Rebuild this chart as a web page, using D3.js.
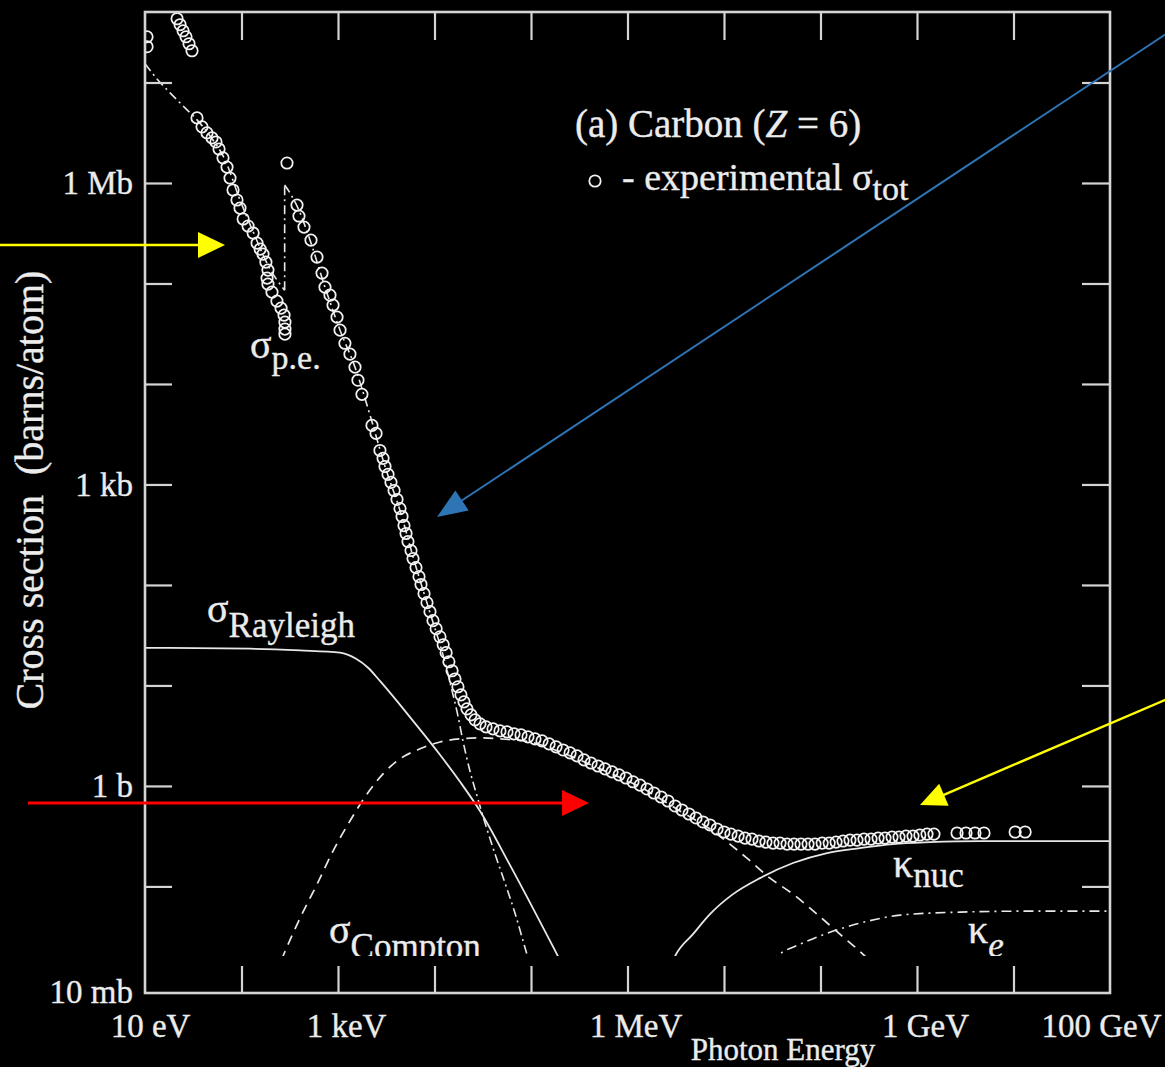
<!DOCTYPE html>
<html>
<head>
<meta charset="utf-8">
<script src="https://cdn.jsdelivr.net/npm/d3@7"></script>
<style>
  html, body { margin: 0; padding: 0; background: #000; }
  svg { display: block; }
  text { font-family: "Liberation Serif", "Times New Roman", serif; fill: #ececec; stroke: #ececec; stroke-width: 0.35px; }
</style>
</head>
<body>
<svg id="chart" width="1165" height="1067"></svg>
<script>
// ---- Photon cross sections for carbon: energy in eV, cross section in barns/atom ----

// Measured total cross section (open circles)
const sigmaTotPoints = [
  [10.5, 2.85e7], [10.5, 2.27e7],
  [21.5, 4.31e7], [23.1, 3.76e7], [24.8, 3.27e7], [26.6, 2.85e7], [28.6, 2.43e7], [30.7, 2.07e7],
  [34.6, 4.44e6], [39.0, 3.62e6], [43.9, 3.15e6], [49.5, 2.81e6], [54.4, 2.56e6], [58.5, 2.18e6],
  [64.3, 1.78e6], [70.8, 1.44e6], [76.0, 1.12e6], [81.7, 8.52e5], [89.8, 6.77e5], [96.5, 5.63e5],
  [104, 4.38e5], [117, 3.73e5], [132, 3.18e5], [145, 2.52e5], [156, 2.20e5], [167, 1.96e5],
  [179, 1.63e5], [188, 1.36e5], [184, 1.13e5], [188, 9.85e4], [207, 8.20e4], [233, 6.67e4],
  [257, 5.68e4], [276, 4.84e4], [282, 4.12e4], [282, 3.51e4], [282, 3.13e4],
  [296, 1.58e6],
  [376, 6.03e5], [394, 4.69e5], [444, 3.64e5], [525, 2.70e5], [606, 1.83e5], [683, 1.27e5],
  [733, 9.19e4], [826, 7.65e4], [888, 6.08e4], [977, 4.62e4], [1050, 3.43e4], [1180, 2.54e4],
  [1330, 1.98e4], [1500, 1.47e4], [1610, 1.09e4], [1770, 7890], [2250, 3870], [2480, 3220],
  [2720, 2180], [2930, 1820], [3070, 1510], [3300, 1260], [3540, 1050], [3810, 871],
  [4090, 709], [4390, 576], [4610, 480], [4830, 390], [5070, 325], [5310, 270],
  [5710, 220], [5990, 183], [6430, 149], [6910, 121], [7250, 101], [7790, 81.9],
  [8360, 66.7], [8980, 54.2], [9650, 44.1], [10400, 36.7], [11400, 30.5], [12300, 25.4],
  [13200, 21.2], [14100, 17.2], [15200, 14.0], [16300, 11.6], [17500, 9.70], [18800, 8.07],
  [20200, 6.87], [21700, 5.85], [23900, 5.10], [26300, 4.55], [29600, 4.15], [34200, 3.87],
  [40400, 3.70], [47700, 3.53], [56400, 3.45], [66700, 3.30], [78800, 3.22], [93100, 3.08],
  [1.10e5, 2.94], [1.30e5, 2.81], [1.54e5, 2.62], [1.82e5, 2.45], [2.15e5, 2.28], [2.54e5, 2.13],
  [3.00e5, 1.99], [3.54e5, 1.82], [4.19e5, 1.69], [4.95e5, 1.58], [5.85e5, 1.48], [6.91e5, 1.38],
  [8.17e5, 1.29], [9.65e5, 1.20], [1.14e6, 1.10], [1.35e6, 1.02], [1.59e6, 0.933], [1.88e6, 0.851],
  [2.23e6, 0.776], [2.63e6, 0.708], [3.11e6, 0.632], [3.67e6, 0.576], [4.34e6, 0.526], [5.13e6, 0.480],
  [6.06e6, 0.438], [7.16e6, 0.409], [8.47e6, 0.373], [1.00e7, 0.348], [1.18e7, 0.332], [1.40e7, 0.317],
  [1.65e7, 0.303], [1.95e7, 0.296], [2.31e7, 0.283], [2.72e7, 0.276], [3.22e7, 0.270], [3.81e7, 0.270],
  [4.50e7, 0.264], [5.32e7, 0.264], [6.28e7, 0.264], [7.43e7, 0.264], [8.77e7, 0.264], [1.04e8, 0.270],
  [1.23e8, 0.270], [1.45e8, 0.276], [1.71e8, 0.283], [2.02e8, 0.289], [2.39e8, 0.289], [2.82e8, 0.296],
  [3.34e8, 0.296], [3.95e8, 0.303], [4.66e8, 0.303], [5.51e8, 0.310], [6.51e8, 0.310], [7.69e8, 0.317],
  [9.09e8, 0.317], [1.07e9, 0.325], [1.27e9, 0.332], [1.50e9, 0.332],
  [2.60e9, 0.340], [3.22e9, 0.340], [3.99e9, 0.340], [4.95e9, 0.340],
  [1.04e10, 0.348], [1.32e10, 0.348]
];

// Atomic photoeffect, below and above the K edge (dash-dot)
const photoBelowEdge = [
  [10, 1.54e7], [13.6, 1.06e7], [18.2, 7.89e6], [26.0, 5.59e6], [34.6, 4.25e6], [47.2, 2.94e6],
  [67.5, 1.70e6], [96.5, 6.77e5], [138, 2.96e5], [188, 1.52e5], [280, 8.58e4]
];
const photoAboveEdge = [
  [280, 9.55e5], [318, 7.95e5], [385, 5.63e5], [513, 2.70e5], [733, 9.19e4], [1050, 3.43e4],
  [1500, 1.47e4], [2150, 4870], [3070, 1510], [4390, 551], [6280, 163], [8980, 53.0],
  [12900, 16.8], [15200, 8.84], [17500, 4.98], [19700, 2.81], [23300, 1.41], [27600, 0.794],
  [33400, 0.428], [42400, 0.210], [53800, 0.108], [68300, 0.0542], [90900, 0.0211], [110000, 0.0119]
];

// Rayleigh (coherent) scattering (solid)
const rayleighPoints = [
  [10, 23.7], [122, 23.2], [404, 22.3], [1050, 21.2], [1540, 18.4], [2050, 15.0], [2720, 11.1],
  [3990, 7.19], [5990, 4.44], [11400, 2.04], [18400, 1.10], [29600, 0.563], [60600, 0.163],
  [186000, 0.0211], [286000, 0.00948]
];

// Compton (incoherent) scattering (dashed)
const comptonPoints = [
  [222, 0.0128], [269, 0.0202], [404, 0.0483], [606, 0.105], [888, 0.225], [1330, 0.448],
  [2000, 0.832], [2930, 1.32], [4390, 1.86], [7080, 2.34], [11400, 2.74], [18400, 2.94],
  [29600, 3.01], [47700, 2.94], [97600, 2.74], [2.00e5, 2.18], [5.19e5, 1.48], [1.35e6, 0.977],
  [3.50e6, 0.563], [7.16e6, 0.373], [1.15e7, 0.264], [1.73e7, 0.191], [3.00e7, 0.121],
  [5.19e7, 0.0838], [9.20e7, 0.0530], [1.59e8, 0.0335], [2.76e8, 0.0211], [4.14e8, 0.0143]
];

// Pair production in the nuclear field (solid)
const pairNuclearPoints = [
  [2.63e6, 0.0137], [3.11e6, 0.0202], [4.77e6, 0.0335], [7.16e6, 0.0530], [1.24e7, 0.0838],
  [2.36e7, 0.121], [5.19e7, 0.171], [1.17e8, 0.215], [2.57e8, 0.241], [5.64e8, 0.264],
  [1.36e9, 0.276], [4.50e9, 0.283], [1.88e10, 0.283], [1e11, 0.283]
];

// Pair production in the electron field (dash-dot)
const pairElectronPoints = [
  [3.00e7, 0.0172], [3.54e7, 0.0202], [6.13e7, 0.0266], [1.17e8, 0.0342], [2.57e8, 0.0431],
  [6.67e8, 0.0518], [2.79e9, 0.0555], [1.48e10, 0.0568], [1e11, 0.0568]
];

// Axis ticks and labels
const xTickValues = [1e2, 1e3, 1e4, 1e5, 1e6, 1e7, 1e8, 1e9, 1e10];
const xLabelValues = [1e1, 1e3, 1e6, 1e9, 1e11];
const xLabelText = ["10 eV", "1 keV", "1 MeV", "1 GeV", "100 GeV"];
const yTickValues = [1e-1, 1, 1e1, 1e2, 1e3, 1e4, 1e5, 1e6, 1e7];
const yLabelValues = [1e-2, 1, 1e3, 1e6];
const yLabelText = ["10 mb", "1 b", "1 kb", "1 Mb"];

// ---- Layout ----
const svg = d3.select("#chart");
const frame = { left: 145, right: 1110, top: 12, bottom: 993, cut: 956 };
const ink = "#e8e8e8";

svg.append("rect").attr("width", 1165).attr("height", 1067).attr("fill", "#000");

const x = d3.scaleLog().domain([1e1, 1e11]).range([frame.left, frame.right]);
const y = d3.scaleLog().domain([8.7e-3, 5.03e7]).range([frame.bottom, frame.top]);

svg.append("clipPath").attr("id", "plotClip")
  .append("rect")
  .attr("x", frame.left).attr("y", frame.top)
  .attr("width", frame.right - frame.left).attr("height", frame.cut - frame.top);

const plot = svg.append("g").attr("clip-path", "url(#plotClip)");

const smooth = d3.line().x(d => x(d[0])).y(d => y(d[1])).curve(d3.curveMonotoneX);
const straight = d3.line().x(d => x(d[0])).y(d => y(d[1]));

function curve(data, gen, dash, width) {
  plot.append("path")
    .attr("d", gen(data))
    .attr("fill", "none")
    .attr("stroke", ink)
    .attr("stroke-width", width)
    .attr("stroke-dasharray", dash || null);
}

const dashDot = "9,4,2,4";
curve(rayleighPoints, smooth, null, 1.8);
curve(comptonPoints, smooth, "10,7", 1.7);
curve(photoBelowEdge, smooth, dashDot, 1.6);
curve([photoBelowEdge[photoBelowEdge.length - 1], photoAboveEdge[0]], straight, dashDot, 1.6);
curve(photoAboveEdge, smooth, dashDot, 1.6);
curve(pairNuclearPoints, smooth, null, 1.8);
curve(pairElectronPoints, smooth, "10,5,2,5", 1.6);

plot.append("g").selectAll("circle")
  .data(sigmaTotPoints)
  .join("circle")
  .attr("cx", d => x(d[0]))
  .attr("cy", d => y(d[1]))
  .attr("r", 5.7)
  .attr("fill", "none")
  .attr("stroke", "#f2f2f2")
  .attr("stroke-width", 1.75);

// ---- Curve labels ----
function symbolLabel(parent, px, py, symbol, sub, opts = {}) {
  const t = parent.append("text").attr("x", px).attr("y", py).attr("font-size", opts.size || 40);
  t.append("tspan").text(symbol);
  const s = t.append("tspan").attr("font-size", opts.subSize || 35).attr("dy", opts.dy || 12).text(sub);
  if (opts.italicSub) s.attr("font-style", "italic");
}
symbolLabel(plot, 250, 358, "σ", "p.e.", { subSize: 34, dy: 11 });
symbolLabel(plot, 207, 622, "σ", "Rayleigh", { dy: 15 });
symbolLabel(plot, 329, 943, "σ", "Compton", { dy: 15 });
symbolLabel(plot, 893, 877, "κ", "nuc", { dy: 10 });
symbolLabel(plot, 968, 943, "κ", "e", { dy: 14, italicSub: true });

// ---- Legend ----
const legend = svg.append("g");
const title = legend.append("text").attr("x", 575).attr("y", 137).attr("font-size", 39);
title.append("tspan").text("(a) Carbon (");
title.append("tspan").attr("font-style", "italic").text("Z");
title.append("tspan").text(" = 6)");
legend.append("circle").attr("cx", 595).attr("cy", 181).attr("r", 5.7)
  .attr("fill", "none").attr("stroke", "#f2f2f2").attr("stroke-width", 1.75);
const entry = legend.append("text").attr("x", 622).attr("y", 190).attr("font-size", 38);
entry.append("tspan").text("- experimental σ");
entry.append("tspan").attr("font-size", 34).attr("dy", 10).text("tot");

// ---- Frame and axes ----
svg.append("rect")
  .attr("x", frame.left).attr("y", frame.top)
  .attr("width", frame.right - frame.left).attr("height", frame.bottom - frame.top)
  .attr("fill", "none").attr("stroke", "#d4d4d4").attr("stroke-width", 2.6);

function styleTicks(g) {
  g.select(".domain").remove();
  g.selectAll(".tick line").attr("stroke", "#d4d4d4").attr("stroke-width", 2.2);
}

svg.append("g").attr("transform", `translate(0,${frame.top})`)
  .call(d3.axisTop(x).tickValues(xTickValues).tickSize(-28).tickFormat(""))
  .call(styleTicks);
svg.append("g").attr("transform", `translate(0,${frame.bottom})`)
  .call(d3.axisBottom(x).tickValues(xTickValues).tickSize(-27).tickFormat(""))
  .call(styleTicks);
svg.append("g").attr("transform", `translate(${frame.left},0)`)
  .call(d3.axisLeft(y).tickValues(yTickValues).tickSize(-27).tickFormat(""))
  .call(styleTicks);
svg.append("g").attr("transform", `translate(${frame.right},0)`)
  .call(d3.axisRight(y).tickValues(yTickValues).tickSize(-28).tickFormat(""))
  .call(styleTicks);

// Tick labels
const xLab = svg.append("g").attr("transform", `translate(0,${frame.bottom})`)
  .call(d3.axisBottom(x).tickValues(xLabelValues).tickSize(0).tickPadding(21)
    .tickFormat((d, i) => xLabelText[i]));
xLab.select(".domain").remove();
xLab.selectAll("text")
  .attr("font-size", 33).attr("font-family", "Liberation Serif").attr("fill", "#e4e4e4")
  .attr("dx", (d, i) => i === xLabelText.length - 1 ? -9 : (i === 0 ? 5 : 8));

const yLab = svg.append("g").attr("transform", `translate(${frame.left},0)`)
  .call(d3.axisLeft(y).tickValues(yLabelValues).tickSize(0).tickPadding(12)
    .tickFormat((d, i) => yLabelText[i]));
yLab.select(".domain").remove();
yLab.selectAll("text")
  .attr("font-size", 33).attr("font-family", "Liberation Serif").attr("fill", "#e4e4e4")
  .attr("transform", (d, i) => i === 0 ? "translate(0,5)" : null);

// Axis titles
svg.append("text")
  .attr("transform", "translate(43,490) rotate(-90)")
  .attr("text-anchor", "middle")
  .attr("font-size", 40)
  .attr("xml:space", "preserve")
  .text("Cross section  (barns/atom)");
svg.append("text")
  .attr("x", 783).attr("y", 1060)
  .attr("text-anchor", "middle")
  .attr("font-size", 31)
  .text("Photon Energy");

// ---- Pointer arrows ----
const arrows = svg.append("g");
function arrow(x1, y1, x2, y2, color, width, headLen, headHalf) {
  const dx = x2 - x1, dy = y2 - y1, len = Math.hypot(dx, dy);
  const ux = dx / len, uy = dy / len;
  const bx = x2 - ux * headLen, by = y2 - uy * headLen;
  arrows.append("line")
    .attr("x1", x1).attr("y1", y1).attr("x2", bx + ux * 2).attr("y2", by + uy * 2)
    .attr("stroke", color).attr("stroke-width", width);
  arrows.append("polygon")
    .attr("points", [[x2, y2], [bx - uy * headHalf, by + ux * headHalf], [bx + uy * headHalf, by - ux * headHalf]]
      .map(p => p.join(",")).join(" "))
    .attr("fill", color);
}
arrow(0, 245, 225, 245, "#ffff00", 2.5, 27, 13);
arrow(1172, 30, 437, 517, "#2e75b6", 2, 30, 12);
arrow(1172, 697, 920, 805, "#ffff00", 2.5, 26, 12);
arrow(28, 803, 589, 803, "#ff0000", 3, 27, 13);
</script>
</body>
</html>
